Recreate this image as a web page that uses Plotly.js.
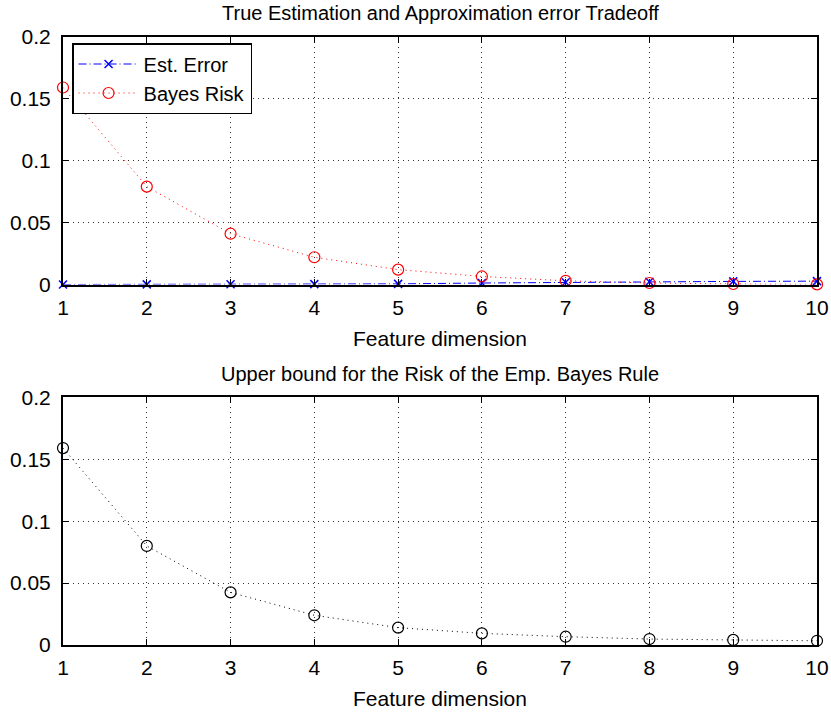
<!DOCTYPE html>
<html>
<head>
<meta charset="utf-8">
<script src="https://cdn.plot.ly/plotly-3.0.1.min.js"></script>
<style>html,body{margin:0;padding:0;background:#fff;}#chart{width:831px;height:714px;}</style>
</head>
<body>
<div id="chart"></div>
<script>
const featureDim = [1, 2, 3, 4, 5, 6, 7, 8, 9, 10];
const estError = [0, 0.0001, 0.0002, 0.0003, 0.0005, 0.0012, 0.0018, 0.0022, 0.0025, 0.0027];
const bayesRisk = [0.159, 0.079, 0.041, 0.022, 0.012, 0.0065, 0.003, 0.0012, 0.0004, 0.0001];
const upperBound = [0.159, 0.080, 0.0425, 0.024, 0.014, 0.0094, 0.0067, 0.0048, 0.0041, 0.0034];
const yTickVals = [0, 0.05, 0.1, 0.15, 0.2];
const yTickText = ['0', '0.05', '0.1', '0.15', '0.2'];
const xTickVals = [1, 2, 3, 4, 5, 6, 7, 8, 9, 10];

const FONT = 'Liberation Sans, Arial, sans-serif';
const traces = [
  {x: featureDim, y: estError, name: 'Est. Error', xaxis: 'x', yaxis: 'y', mode: 'lines+markers',
   line: {color: '#0000ff', dash: '8px,3px,1px,3px', width: 1},
   marker: {symbol: 'x-thin-open', size: 8, line: {color: '#0000ff', width: 1.5}, color: '#0000ff'},
   cliponaxis: false},
  {x: featureDim, y: bayesRisk, name: 'Bayes Risk', xaxis: 'x', yaxis: 'y', mode: 'lines+markers',
   line: {color: '#ff0000', dash: '1px,4px', width: 1},
   marker: {symbol: 'circle-open', size: 11, line: {color: '#ff0000', width: 1.2}, color: '#ff0000'},
   cliponaxis: false},
  {x: featureDim, y: upperBound, name: 'Upper bound', xaxis: 'x2', yaxis: 'y2', mode: 'lines+markers',
   showlegend: false,
   line: {color: '#000000', dash: '1px,4px', width: 1},
   marker: {symbol: 'circle-open', size: 11, line: {color: '#000000', width: 1.2}, color: '#000000'},
   cliponaxis: false}
];

function xax(anchor) {
  return {anchor: anchor, domain: [0, 1], range: [1, 10], tickvals: xTickVals, ticktext: xTickVals.map(String),
    showgrid: true, gridcolor: '#333', griddash: '1px,4px', gridwidth: 1,
    showline: true, linecolor: '#000', linewidth: 2, mirror: 'ticks',
    ticks: 'inside', ticklen: 6, tickcolor: '#000', tickwidth: 1,
    zeroline: false, tickfont: {family: FONT, size: 21, color: '#000'}, ticklabelstandoff: 3};
}
function yax(anchor, dom) {
  return {anchor: anchor, domain: dom, range: [0, 0.2], tickvals: yTickVals, ticktext: yTickText,
    showgrid: true, gridcolor: '#333', griddash: '1px,4px', gridwidth: 1,
    showline: true, linecolor: '#000', linewidth: 2, mirror: 'ticks',
    ticks: 'inside', ticklen: 6, tickcolor: '#000', tickwidth: 1,
    zeroline: false, tickfont: {family: FONT, size: 21, color: '#000'}, ticklabelstandoff: 6};
}

const H = 714;
const layout = {
  width: 831, height: 714,
  margin: {l: 63, r: 14, t: 0, b: 0},
  paper_bgcolor: '#fff', plot_bgcolor: '#fff',
  font: {family: FONT, color: '#000', size: 20},
  xaxis: xax('y'),
  yaxis: yax('x', [1 - 284.5 / H, 1 - 36.7 / H]),
  xaxis2: xax('y2'),
  yaxis2: yax('x2', [1 - 645 / H, 1 - 397.3 / H]),
  showlegend: true,
  legend: {x: 0.012, y: 1 - 43 / H, xanchor: 'left', yanchor: 'top', bgcolor: '#fff',
    bordercolor: '#000', borderwidth: 1.5, font: {family: FONT, size: 20, color: '#000'},
    tracegroupgap: 0, itemwidth: 60},
  annotations: [
    {text: 'True Estimation and Approximation error Tradeoff', xref: 'paper', yref: 'paper', x: 0.5, y: 1 - 13 / H,
     xanchor: 'center', yanchor: 'middle', showarrow: false, font: {family: FONT, size: 20, color: '#000'}},
    {text: 'Feature dimension', xref: 'paper', yref: 'paper', x: 0.5, y: 1 - 338 / H,
     xanchor: 'center', yanchor: 'middle', showarrow: false, font: {family: FONT, size: 21, color: '#000'}},
    {text: 'Upper bound for the Risk of the Emp. Bayes Rule', xref: 'paper', yref: 'paper', x: 0.5, y: 1 - 374 / H,
     xanchor: 'center', yanchor: 'middle', showarrow: false, font: {family: FONT, size: 20, color: '#000'}},
    {text: 'Feature dimension', xref: 'paper', yref: 'paper', x: 0.5, y: 1 - 698 / H,
     xanchor: 'center', yanchor: 'middle', showarrow: false, font: {family: FONT, size: 21, color: '#000'}}
  ]
};

Plotly.newPlot('chart', traces, layout, {displayModeBar: false, staticPlot: true});
</script>
</body>
</html>
